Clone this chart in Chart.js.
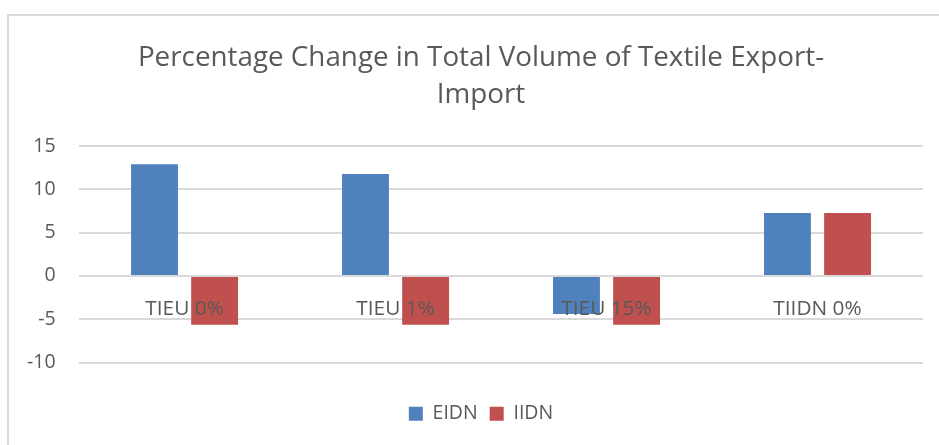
<!DOCTYPE html>
<html>
<head>
<meta charset="utf-8">
<script src="https://cdn.jsdelivr.net/npm/chart.js@4"></script>
<style>
  html, body { margin: 0; padding: 0; background: #fff; }
  #wrap { position: relative; width: 939px; height: 445px; }
  #frame {
    position: absolute; left: 7px; top: 14px; right: 0; bottom: -4px;
    border-left: 2px solid #d9d9d9; border-top: 2px solid #d9d9d9;
    pointer-events: none;
  }
  canvas { position: absolute; left: 0; top: 0; }
</style>
</head>
<body>
<div id="wrap">
  <canvas id="chart" width="939" height="445"></canvas>
  <div id="frame"></div>
</div>
<script>
// chart data
const categories = ["TIEU 0%", "TIEU 1%", "TIEU 15%", "TIIDN 0%"];
const eidnValues = [12.9, 11.75, -4.4, 7.26];
const iidnValues = [-5.65, -5.65, -5.65, 7.26];
const yTicks = [-10, -5, 0, 5, 10, 15];

const textColor = "#595959";
const gridColor = "#d9d9d9";
const fontFamily = "'Open Sans', sans-serif";

document.addEventListener("DOMContentLoaded", () => {
  const ctx = document.getElementById("chart").getContext("2d");

  new Chart(ctx, {
    type: "bar",
    data: {
      labels: categories,
      datasets: [
        {
          label: "EIDN",
          data: eidnValues,
          backgroundColor: "#4f81bd",
          categoryPercentage: 0.57,
          barPercentage: 0.78
        },
        {
          label: "IIDN",
          data: iidnValues,
          backgroundColor: "#c0504d",
          categoryPercentage: 0.57,
          barPercentage: 0.78
        }
      ]
    },
    options: {
      responsive: false,
      animation: false,
      layout: {
        padding: { top: 40, left: 27, right: 4, bottom: 11.5 }
      },
      scales: {
        x: {
          // category labels sit just under the zero line, like the original
          position: { y: 0 },
          grid: { display: false, drawTicks: false },
          border: { display: false },
          ticks: {
            z: 1,
            color: textColor,
            font: { family: fontFamily, size: 20.8 },
            padding: 21,
            maxRotation: 0
          },
          // keeps the plot edges where the original has them
          afterFit: (scale) => {
            scale.paddingLeft = 0;
            scale.paddingRight = 16;
          }
        },
        y: {
          min: Math.min(...yTicks),
          max: Math.max(...yTicks),
          afterBuildTicks: (scale) => {
            scale.ticks = yTicks.map((v) => ({ value: v }));
          },
          // padding only between labels and plot, not on the outer side too
          afterFit: (scale) => {
            scale.width -= scale.options.ticks.padding;
          },
          grid: { color: gridColor, lineWidth: 2, drawTicks: false },
          border: { display: false },
          ticks: {
            color: textColor,
            font: { family: fontFamily, size: 19.5 },
            padding: 23.5
          }
        }
      },
      plugins: {
        title: {
          display: true,
          text: ["Percentage Change in Total Volume of Textile Export-", "Import"],
          color: textColor,
          font: { family: fontFamily, size: 27.8, weight: "normal", lineHeight: 1.33 },
          padding: { top: 0, bottom: 32 }
        },
        legend: {
          position: "bottom",
          title: {
            display: true,
            text: "",
            font: { size: 1, lineHeight: 1 },
            padding: { top: 28.5, bottom: 0 }
          },
          labels: {
            color: textColor,
            font: { family: fontFamily, size: 19.5 },
            boxWidth: 14,
            boxHeight: 14,
            padding: 12
          }
        },
        tooltip: { enabled: false }
      }
    }
  });
});
</script>
</body>
</html>
